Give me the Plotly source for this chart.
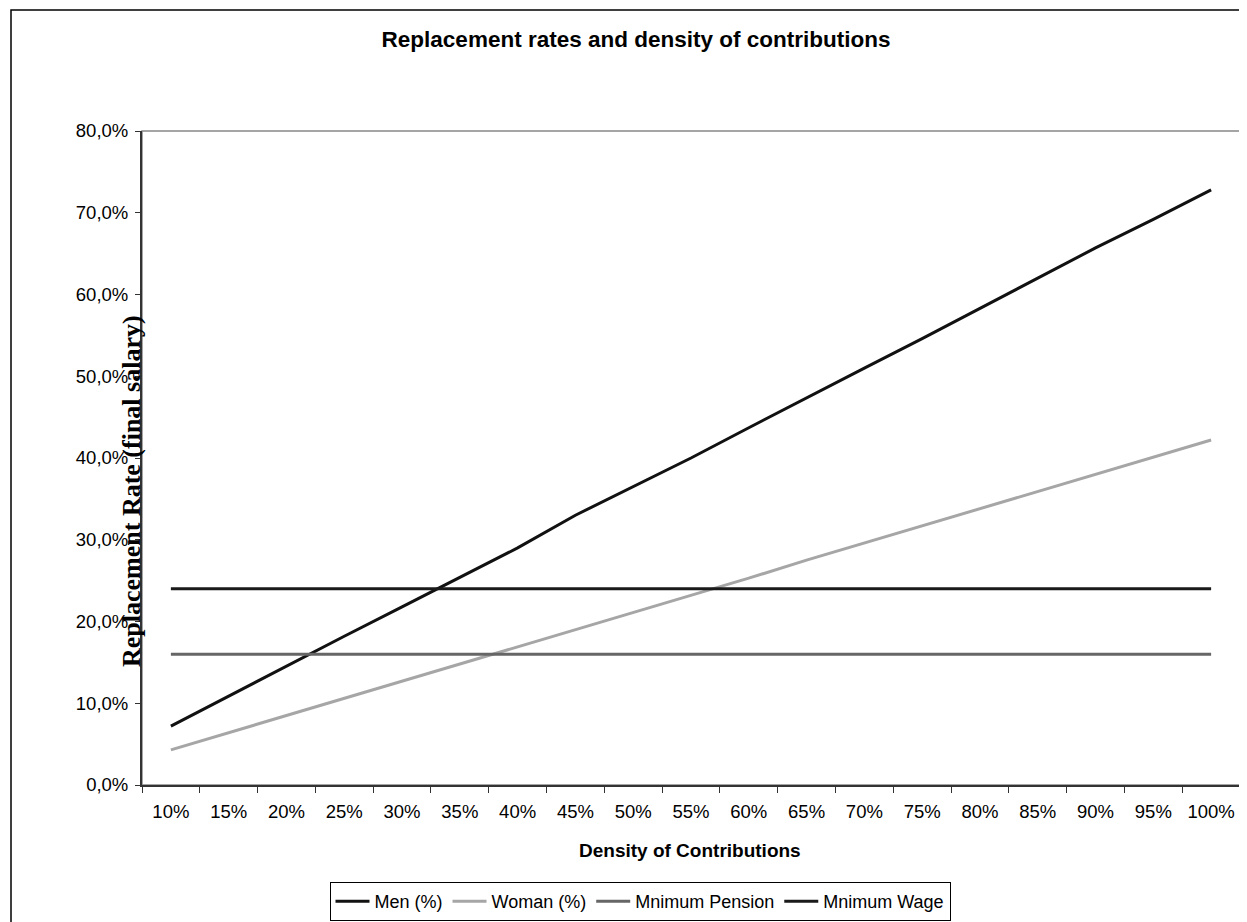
import plotly.graph_objects as go

categories = ["10%", "15%", "20%", "25%", "30%", "35%", "40%", "45%", "50%", "55%",
              "60%", "65%", "70%", "75%", "80%", "85%", "90%", "95%", "100%"]
men = [7.2, 10.9, 14.6, 18.2, 21.8, 25.4, 29.0, 33.0, 36.5, 40.0,
       43.7, 47.4, 51.0, 54.6, 58.3, 62.0, 65.7, 69.2, 72.8]
women = [4.3, 6.4, 8.5, 10.6, 12.7, 14.8, 16.9, 19.0, 21.1, 23.2,
         25.3, 27.5, 29.6, 31.7, 33.8, 35.9, 38.0, 40.1, 42.2]
min_pension = [16.0] * 19
min_wage = [24.0] * 19
y_tickvals = [0, 10, 20, 30, 40, 50, 60, 70, 80]
y_ticktext = ["0,0%", "10,0%", "20,0%", "30,0%", "40,0%", "50,0%", "60,0%", "70,0%", "80,0%"]

OFF = 8  # page body margin
W, H = 1247 - OFF, 922 - OFF
L, R, T, B = 142 - OFF, 1240 - OFF, 131 - OFF, 785 - OFF

def px_x(px):  # screen px -> paper
    return (px - OFF - L) / (R - L)

def px_y(py):
    return (B - (py - OFF)) / (B - T)

fig = go.Figure()
series = [
    ("Men (%)", men, "#111111"),
    ("Woman (%)", women, "#a6a6a6"),
    ("Mnimum Pension", min_pension, "#666666"),
    ("Mnimum Wage", min_wage, "#1a1a1a"),
]
for name, vals, col in series:
    fig.add_trace(go.Scatter(x=categories, y=vals, mode="lines", name=name,
                             line=dict(color=col, width=3)))

font_sans = "Liberation Sans, Arial, sans-serif"

fig.update_layout(
    width=W, height=H,
    margin=dict(l=L, r=W - R, t=T, b=H - B, pad=0, autoexpand=False),
    paper_bgcolor="white", plot_bgcolor="white",
    font=dict(family=font_sans, size=18, color="black"),
    title=dict(text="<b>Replacement rates and density of contributions</b>",
               x=px_x(636), xref="paper", xanchor="center",
               y=1 - (39 - OFF) / H, yref="container", yanchor="middle",
               font=dict(family=font_sans, size=22.5, color="black")),
    showlegend=True,
    legend=dict(orientation="h", x=px_x(640), xanchor="center",
                y=px_y(882), yanchor="top",
                bordercolor="black", borderwidth=1, bgcolor="white",
                font=dict(family=font_sans, size=18, color="black"),
                itemwidth=34, tracegroupgap=0),
)
fig.update_xaxes(type="category", range=[-0.5, 18.5], showgrid=False, automargin=False,
                 showline=True, linecolor="#333333", linewidth=2,
                 ticks="outside", ticklen=6, tickcolor="#333333", tickwidth=1,
                 tickson="boundaries", ticklabelstandoff=9,
                 tickfont=dict(family=font_sans, size=18.5, color="black"),
                 zeroline=False)
fig.update_yaxes(range=[0, 80], tickvals=y_tickvals, ticktext=y_ticktext,
                 showgrid=False, showline=True, linecolor="#333333", linewidth=2,
                 automargin=False,
                 ticks="outside", ticklen=5, tickcolor="#333333", tickwidth=1,
                 ticklabelstandoff=3,
                 tickfont=dict(family=font_sans, size=18.5, color="black"),
                 zeroline=False)

# plot area border (gray top/right)
fig.add_shape(type="rect", xref="paper", yref="paper", x0=0, x1=1, y0=0, y1=1,
              line=dict(color="#888888", width=1.5), layer="below")
# outer chart border (left and top edges visible)
fig.add_shape(type="rect", xref="paper", yref="paper",
              x0=px_x(11), x1=px_x(1260), y0=px_y(935), y1=px_y(10),
              line=dict(color="black", width=1.5), layer="below")

fig.add_annotation(text="<b>Density of Contributions</b>", xref="paper", yref="paper",
                   x=px_x(690), y=px_y(850), xanchor="center", yanchor="middle",
                   showarrow=False, font=dict(family=font_sans, size=19, color="black"))
fig.add_annotation(text="<b>Replacement Rate (final salary)</b>", xref="paper", yref="paper",
                   x=px_x(131), y=px_y(491), xanchor="center", yanchor="middle",
                   textangle=-90, showarrow=False,
                   font=dict(family="Liberation Serif, Times New Roman, serif", size=26, color="black"))

fig.write_html("out.html")
